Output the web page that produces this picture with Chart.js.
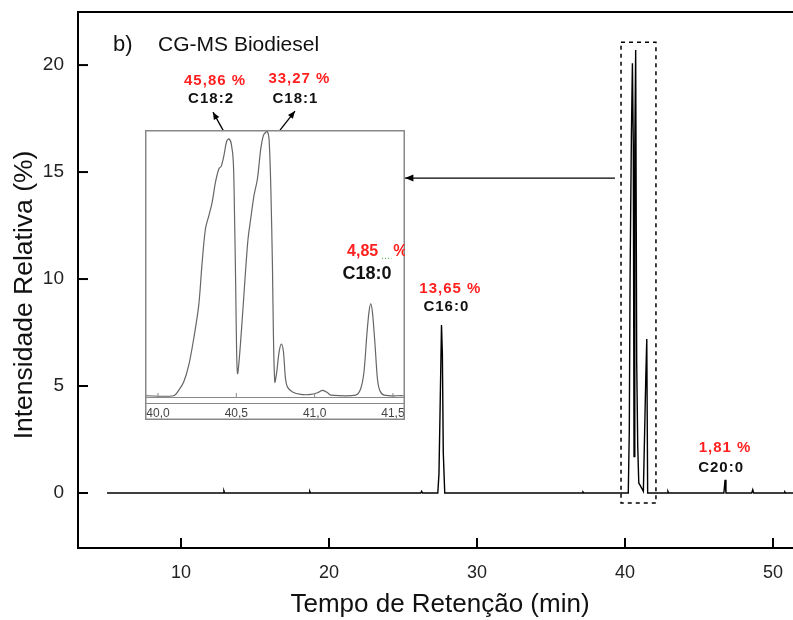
<!DOCTYPE html>
<html>
<head>
<meta charset="utf-8">
<script src="https://cdn.jsdelivr.net/npm/chart.js@4.4.1/dist/chart.umd.min.js"></script>
<style>
  html, body { margin: 0; padding: 0; background: #fff; }
  #wrap { position: relative; width: 793px; height: 620px; }
  #main { position: absolute; left: 0; top: 0; width: 793px; height: 620px; }
  #inset { position: absolute; left: 145px; top: 130px; width: 260px; height: 290px; }
</style>
</head>
<body>
<div id="wrap">
  <div id="main"><canvas id="mainChart"></canvas></div>
  <div id="inset"><canvas id="insetChart"></canvas></div>
</div>
<script>
// cromatograma completo (tempo em min, intensidade relativa em %)
const mainTime = [5.0, 12.85, 12.9, 12.95, 18.65, 18.7, 18.75, 26.2, 26.26, 26.32,
  27.35, 27.43, 27.5, 27.6, 27.66, 27.72, 27.82, 37.1, 37.16, 37.22,
  40.22, 40.29, 40.34, 40.43, 40.50, 40.56, 40.61, 40.66, 40.72, 40.79, 40.86, 40.93,
  41.06, 41.24, 41.40, 41.47, 41.53, 42.85, 42.9, 42.95,
  46.68, 46.76, 46.82, 48.56, 48.63, 48.69, 50.75, 50.8, 50.85, 51.6];
const mainIntensity = [0, 0, 0.1, 0, 0, 0.08, 0, 0, 0.08, 0,
  0, 0.9, 3.7, 7.85, 6.5, 1.9, 0, 0, 0.05, 0,
  0, 2.94, 9.95, 16.65, 20.08, 16.2, 1.7, 16.2, 20.7, 6.06, 2.16, 0.47,
  0.31, 0.08, 5.28, 7.2, 0, 0, 0.08, 0,
  0, 0.62, 0, 0, 0.15, 0, 0, 0.05, 0, 0];

// ampliação 40,0 - 41,5 min
const insetTime = [39.912, 40.100, 40.132, 40.164, 40.196, 40.228, 40.260, 40.282, 40.303, 40.325,
  40.346, 40.367, 40.389, 40.404, 40.421, 40.438, 40.453, 40.468, 40.481, 40.489,
  40.496, 40.502, 40.508, 40.519, 40.538, 40.560, 40.575, 40.592, 40.613, 40.635,
  40.656, 40.673, 40.688, 40.699, 40.709, 40.720, 40.731, 40.737, 40.746, 40.758,
  40.773, 40.788, 40.801, 40.814, 40.827, 40.859, 40.912, 40.976, 41.018, 41.051,
  41.083, 41.102, 41.262, 41.294, 41.315, 41.333, 41.347, 41.358, 41.369, 41.386,
  41.401, 41.416, 41.444, 41.561, 41.62];
const insetIntensity = [0, 0, 0.42, 1.08, 2.39, 4.5, 7.13, 10.55, 13.18, 14.23,
  15.29, 16.86, 17.92, 18.13, 18.97, 20.07, 20.28, 19.89, 18.44, 13.97,
  8.71, 3.45, 1.74, 2.92, 6.08, 10.02, 12.39, 13.97, 15.81, 17.13,
  19.49, 20.55, 20.8, 20.85, 20.28, 16.6, 10.02, 4.76, 1.08, 1.87,
  3.45, 4.08, 3.45, 1.34, 0.68, 0.29, 0.1, 0.1, 0.24, 0.42,
  0.24, 0.05, 0.05, 0.55, 1.87, 4.76, 6.6, 7.26, 6.6, 3.97,
  1.34, 0.42, 0.05, 0, 0];

const peakLabels = [
  { pct: '45,86 %', name: 'C18:2', x: 12.3, yPct: 19.25, yName: 18.41 },
  { pct: '33,27 %', name: 'C18:1', x: 18.0, yPct: 19.35, yName: 18.41 },
  { pct: '13,65 %', name: 'C16:0', x: 28.2, yPct: 9.53, yName: 8.69 },
  { pct: '1,81 %', name: 'C20:0', x: 46.76, yPct: 2.10, yName: 1.17 }
];

const FONT = '"Liberation Sans", Arial, sans-serif';
const RED = '#ff1f1f';

function toPts(xs, ys) {
  return xs.map((x, i) => ({ x: x, y: ys[i] }));
}

function noPad(s) {
  s.paddingTop = 0; s.paddingBottom = 0; s.paddingLeft = 0; s.paddingRight = 0;
}

function arrow(ctx, x1, y1, x2, y2, head) {
  const a = Math.atan2(y2 - y1, x2 - x1);
  ctx.beginPath();
  ctx.moveTo(x1, y1);
  ctx.lineTo(x2, y2);
  ctx.stroke();
  ctx.beginPath();
  ctx.moveTo(x2, y2);
  ctx.lineTo(x2 - head * Math.cos(a - 0.4), y2 - head * Math.sin(a - 0.4));
  ctx.lineTo(x2 - head * Math.cos(a + 0.4), y2 - head * Math.sin(a + 0.4));
  ctx.closePath();
  ctx.fill();
}

function label(ctx, text, px, py, font, color, align) {
  ctx.font = font;
  ctx.fillStyle = color;
  ctx.textAlign = align || 'center';
  ctx.textBaseline = 'middle';
  ctx.fillText(text, px, py);
}

const mainDecor = {
  id: 'mainDecor',
  afterDraw(chart) {
    const ctx = chart.ctx;
    const xs = chart.scales.x, ys = chart.scales.y;
    const area = chart.chartArea;
    const X = v => xs.getPixelForValue(v);
    const Y = v => ys.getPixelForValue(v);
    ctx.save();
    ctx.strokeStyle = '#000';
    ctx.fillStyle = '#000';
    ctx.lineWidth = 2;
    // moldura superior
    ctx.beginPath();
    ctx.moveTo(area.left, area.top);
    ctx.lineTo(area.right, area.top);
    ctx.stroke();
    // marcas para dentro
    xs.ticks.forEach(t => {
      const p = X(t.value);
      ctx.beginPath(); ctx.moveTo(p, area.bottom); ctx.lineTo(p, area.bottom - 10); ctx.stroke();
    });
    ys.ticks.forEach(t => {
      const p = Y(t.value);
      ctx.beginPath(); ctx.moveTo(area.left, p); ctx.lineTo(area.left + 10, p); ctx.stroke();
    });
    // retangulo tracejado da região ampliada
    ctx.lineWidth = 1.5;
    ctx.setLineDash([4, 4]);
    ctx.strokeRect(X(39.73), Y(21.07), X(42.09) - X(39.73), Y(-0.47) - Y(21.07));
    ctx.setLineDash([]);
    // seta até o detalhe
    ctx.lineWidth = 1.3;
    arrow(ctx, X(39.32), Y(14.72), X(25.14), Y(14.72), 9);
    arrow(ctx, X(12.84), Y(16.96), X(12.16), Y(17.8), 8);
    arrow(ctx, X(16.69), Y(16.96), X(17.7), Y(17.85), 8);
    // textos
    ctx.letterSpacing = '1px';
    peakLabels.forEach(l => {
      label(ctx, l.pct, X(l.x), Y(l.yPct), 'bold 15px ' + FONT, RED);
      label(ctx, l.name, X(l.x) - 4, Y(l.yName), 'bold 15px ' + FONT, '#111');
    });
    ctx.letterSpacing = '0px';
    label(ctx, 'b)', X(5.41), Y(20.93), '22px ' + FONT, '#111', 'left');
    label(ctx, 'CG-MS Biodiesel', X(8.45), Y(20.93), '21px ' + FONT, '#111', 'left');
    // títulos dos eixos
    label(ctx, 'Tempo de Retenção (min)', 440, 605, '26px ' + FONT, '#111');
    ctx.translate(25, 295);
    ctx.rotate(-Math.PI / 2);
    label(ctx, 'Intensidade Relativa (%)', 0, 0, '26.5px ' + FONT, '#111');
    ctx.restore();
  }
};

new Chart(document.getElementById('mainChart'), {
  type: 'line',
  data: {
    datasets: [{
      data: toPts(mainTime, mainIntensity),
      borderColor: '#000',
      borderWidth: 1.4,
      pointRadius: 0,
      tension: 0
    }]
  },
  options: {
    responsive: true,
    maintainAspectRatio: false,
    animation: false,
    layout: { autoPadding: false, padding: { top: 12, right: 0, left: 0, bottom: 0 } },
    plugins: { legend: { display: false }, tooltip: { enabled: false } },
    scales: {
      x: {
        type: 'linear', min: 3.04, max: 51.35,
        afterFit: s => { s.height = 72; noPad(s); },
        border: { display: true, color: '#000', width: 2 },
        grid: { drawOnChartArea: false, drawTicks: false },
        ticks: { stepSize: 10, includeBounds: false, padding: 14, color: '#222',
          font: { family: FONT, size: 18 } }
      },
      y: {
        min: -2.57, max: 22.48,
        afterFit: s => { s.width = 78; noPad(s); },
        border: { display: true, color: '#000', width: 2 },
        grid: { drawOnChartArea: false, drawTicks: false },
        ticks: { stepSize: 5, includeBounds: false, padding: 14, color: '#222',
          font: { family: FONT, size: 19 } }
      }
    }
  },
  plugins: [mainDecor]
});

const insetDecor = {
  id: 'insetDecor',
  afterDraw(chart) {
    const ctx = chart.ctx;
    const xs = chart.scales.x, ys = chart.scales.y;
    const area = chart.chartArea;
    const X = v => xs.getPixelForValue(v);
    const Y = v => ys.getPixelForValue(v);
    ctx.save();
    ctx.strokeStyle = '#888';
    ctx.lineWidth = 1.5;
    ctx.strokeRect(0.75, 0.75, chart.width - 1.5, chart.height - 1.5);
    ctx.lineWidth = 1;
    ctx.beginPath();
    ctx.moveTo(0, area.bottom + 6.5);
    ctx.lineTo(chart.width, area.bottom + 6.5);
    ctx.stroke();
    xs.ticks.forEach(t => {
      const p = X(t.value);
      ctx.beginPath(); ctx.moveTo(p, area.bottom); ctx.lineTo(p, area.bottom - 4); ctx.stroke();
    });
    label(ctx, '4,85', X(41.207), Y(11.37), 'bold 16px ' + FONT, RED, 'left');
    label(ctx, '%', X(41.502), Y(11.37), 'bold 16px ' + FONT, RED, 'left');
    ctx.strokeStyle = '#3a3';
    ctx.setLineDash([1, 2]);
    ctx.beginPath();
    ctx.moveTo(X(41.43), Y(10.85)); ctx.lineTo(X(41.49), Y(10.85));
    ctx.stroke();
    ctx.setLineDash([]);
    label(ctx, 'C18:0', X(41.335), Y(9.63), 'bold 18px ' + FONT, '#111');
    ctx.restore();
  }
};

new Chart(document.getElementById('insetChart'), {
  type: 'line',
  data: {
    datasets: [{
      data: toPts(insetTime, insetIntensity),
      borderColor: '#666',
      borderWidth: 1.2,
      pointRadius: 0,
      tension: 0.3
    }]
  },
  options: {
    responsive: true,
    maintainAspectRatio: false,
    animation: false,
    layout: { autoPadding: false, padding: { top: 1, right: 0, left: 0, bottom: 0 } },
    plugins: { legend: { display: false }, tooltip: { enabled: false } },
    scales: {
      x: {
        type: 'linear', min: 39.917, max: 41.577,
        afterFit: s => { s.height = 23; noPad(s); },
        border: { display: true, color: '#888', width: 1 },
        grid: { drawOnChartArea: false, drawTicks: false },
        ticks: { stepSize: 0.5, includeBounds: false, padding: 9, color: '#444',
          font: { family: FONT, size: 12 },
          callback: v => v.toFixed(1).replace('.', ',') }
      },
      y: { display: false, min: -0.1, max: 20.9 }
    }
  },
  plugins: [insetDecor]
});
</script>
</body>
</html>
